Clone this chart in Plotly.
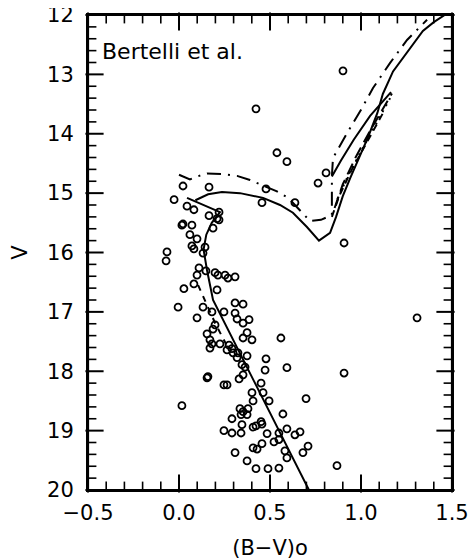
import plotly.graph_objects as go
import numpy as np

# ---- observed stars ----
star_bv = [0.901,0.423,0.538,0.593,0.808,0.764,0.022,0.165,0.478,-0.027,
           0.456,0.637,0.044,0.082,0.220,0.165,0.209,0.220,0.016,0.022,
           0.071,0.187,0.060,0.099,0.907,0.071,0.082,0.143,0.132,-0.066,
           -0.071,0.110,0.099,0.148,0.198,0.214,0.253,0.308,0.269,0.082,
           0.027,0.209,-0.005,0.132,0.308,0.352,0.181,0.247,0.308,0.099,
           0.319,0.352,0.385,0.198,0.187,0.154,0.374,0.401,0.352,0.560,
           0.170,0.181,0.170,0.225,0.275,0.291,0.264,0.297,0.324,0.374,
           0.319,0.478,0.346,0.363,0.473,0.593,0.907,1.308,0.159,0.154,
           0.330,0.352,0.247,0.264,0.451,0.401,0.407,0.462,0.495,0.698,
           0.016,0.335,0.352,0.379,0.374,0.341,0.571,0.291,0.346,0.407,
           0.423,0.451,0.456,0.247,0.291,0.341,0.484,0.549,0.593,0.637,
           0.665,0.522,0.549,0.456,0.407,0.429,0.709,0.582,0.681,0.593,
           0.308,0.374,0.423,0.489,0.549,0.868]
star_v = [12.94,13.58,14.32,14.47,14.66,14.83,14.88,14.90,14.93,15.11,
          15.16,15.16,15.22,15.28,15.32,15.38,15.43,15.45,15.54,15.52,
          15.54,15.59,15.70,15.77,15.84,15.89,15.94,15.91,16.01,15.99,
          16.14,16.26,16.38,16.31,16.34,16.38,16.38,16.41,16.43,16.53,
          16.61,16.63,16.92,16.92,16.85,16.87,17.00,17.00,17.02,17.10,
          17.12,17.19,17.13,17.22,17.29,17.37,17.35,17.47,17.44,17.44,
          17.47,17.54,17.61,17.54,17.56,17.62,17.64,17.69,17.69,17.74,
          17.77,17.79,17.89,17.93,17.98,17.94,18.03,17.10,18.09,18.11,
          18.13,18.06,18.23,18.23,18.20,18.36,18.50,18.36,18.50,18.46,
          18.58,18.63,18.68,18.63,18.73,18.73,18.72,18.80,18.90,18.94,
          18.92,18.85,18.89,19.00,19.04,19.04,19.05,19.04,18.97,19.07,
          19.02,19.19,19.15,19.22,19.29,19.31,19.26,19.34,19.37,19.46,
          19.37,19.51,19.64,19.64,19.63,19.59]

# ---- main isochrone (solid): main sequence + hook ----
ms_bv = [0.714, 0.45, 0.187, 0.154, 0.135, 0.150, 0.180, 0.225, 0.044]
ms_v  = [20.00, 18.40, 16.80, 16.30, 15.95, 15.70, 15.50, 15.32, 15.08]
# subgiant + giant branch (solid)
gb_bv = [0.09, 0.16, 0.236, 0.335, 0.462, 0.555, 0.626, 0.703, 0.769, 0.83,
         0.863, 0.90, 0.94, 0.99, 1.04, 1.09, 1.12, 1.176, 1.26, 1.34, 1.40, 1.46]
gb_v  = [15.12, 15.02, 14.98, 15.00, 15.08, 15.20, 15.33, 15.57, 15.80, 15.67,
         15.40, 15.05, 14.75, 14.40, 14.05, 13.65, 13.33, 12.95, 12.60, 12.27, 12.12, 12.00]

# ---- dash-dot isochrone ----
dd_bv = [0.00, 0.06, 0.10, 0.154, 0.236, 0.319, 0.39, 0.46, 0.538, 0.60, 0.648,
         0.72, 0.78, 0.84, 0.84, 0.846, 0.923, 1.005, 1.066, 1.159, 1.253, 1.363]
dd_v  = [14.69, 14.77, 14.72, 14.67, 14.68, 14.71, 14.78, 14.87, 14.97, 15.08, 15.23,
         15.47, 15.45, 15.37, 14.72, 14.41, 13.99, 13.57, 13.23, 12.81, 12.42, 12.08]

# ---- other giant branches ----
b_bv = [0.84, 0.89, 0.96, 1.05, 1.165]
b_v  = [14.72, 14.45, 14.10, 13.70, 13.30]
d_bv = [0.855, 0.90, 0.97, 1.05, 1.17]
d_v  = [15.25, 14.85, 14.40, 13.95, 13.32]
e_bv = [0.87, 0.93, 1.00, 1.08, 1.16]
e_v  = [15.10, 14.70, 14.30, 13.85, 13.40]
f_bv = [0.84, 0.88, 0.95, 1.03, 1.13]
f_v  = [15.40, 15.05, 14.60, 14.15, 13.60]
# dashed main-sequence segment
m2_bv = [0.105, 0.15, 0.20, 0.26]
m2_v  = [16.55, 16.85, 17.20, 17.55]

X_RANGE = [-0.5, 1.5]
Y_RANGE = [20, 12]
x_major = [-0.5, 0.0, 0.5, 1.0, 1.5]
x_labels = ["\u22120.5", "0.0", "0.5", "1.0", "1.5"]
y_major = [12, 13, 14, 15, 16, 17, 18, 19, 20]
x_minor = [float(v) for v in np.round(np.arange(-0.5, 1.5001, 0.1), 2) if v not in x_major]
y_minor = [float(v) for v in np.round(np.arange(12, 20.001, 0.2), 2) if v not in y_major]

W, H = 468, 552
ML, MR, MT, MB = 80, 24, 7, 70
PW, PH = W - ML - MR, H - MT - MB
DX = (X_RANGE[1] - X_RANGE[0]) / PW      # data units per pixel along x
DY = (Y_RANGE[0] - Y_RANGE[1]) / PH      # data units per pixel along y

FONT = "DejaVu Sans, sans-serif"
fig = go.Figure()

def line(x, y, dash="solid", w=2.0):
    fig.add_trace(go.Scatter(x=x, y=y, mode="lines", showlegend=False,
                             line=dict(color="black", width=w, dash=dash),
                             hoverinfo="skip"))

line(ms_bv, ms_v)
line(gb_bv, gb_v)
line(dd_bv, dd_v, dash="14px,7px,2px,7px")
line(b_bv, b_v)
line(d_bv, d_v, dash="12px,6px")
line(e_bv, e_v, dash="2px,5px")
line(f_bv, f_v, dash="7px,5px")
line(m2_bv, m2_v, dash="6px,6px")

fig.add_trace(go.Scatter(x=star_bv, y=star_v, mode="markers", showlegend=False,
                         marker=dict(symbol="circle-open", size=7, color="black",
                                     line=dict(width=1.8, color="black"))))

# ---- inside tick marks drawn as line-shaped markers (half length offset inward) ----
def tick_markers(xv, yv, L, w):
    h = L / 2.0
    xs = list(xv) + list(xv)
    ys = [Y_RANGE[0] - h * DY] * len(xv) + [Y_RANGE[1] + h * DY] * len(xv)
    fig.add_trace(go.Scatter(x=xs, y=ys, mode="markers", showlegend=False,
                             cliponaxis=False, hoverinfo="skip",
                             marker=dict(symbol="line-ns", size=L, color="black",
                                         line=dict(width=w, color="black"))))
    xs = [X_RANGE[0] + h * DX] * len(yv) + [X_RANGE[1] - h * DX] * len(yv)
    ys = list(yv) + list(yv)
    fig.add_trace(go.Scatter(x=xs, y=ys, mode="markers", showlegend=False,
                             cliponaxis=False, hoverinfo="skip",
                             marker=dict(symbol="line-ew", size=L, color="black",
                                         line=dict(width=w, color="black"))))

tick_markers(x_major, y_major, 13, 2.0)
tick_markers(x_minor, y_minor, 7, 1.6)

fig.add_annotation(x=-0.434, y=12.61, xref="x", yref="y", text="Bertelli et al.",
                   showarrow=False, xanchor="left", yanchor="middle",
                   font=dict(family=FONT, size=22, color="black"))

tickfont = dict(family=FONT, size=21, color="black")
fig.update_layout(
    width=W, height=H, margin=dict(l=ML, r=MR, t=MT, b=MB),
    paper_bgcolor="white", plot_bgcolor="white",
    shapes=[dict(type="rect", xref="paper", yref="paper", x0=0, x1=1, y0=0, y1=1,
                 line=dict(color="black", width=2.2), layer="above")],
    xaxis=dict(range=X_RANGE, tickmode="array", tickvals=x_major, ticktext=x_labels,
               showgrid=False, zeroline=False, showline=True, linecolor="black",
               linewidth=2, mirror=True, ticks="",
               automargin=False, ticklabeloverflow="allow", ticklabelstandoff=3,
               tickfont=tickfont,
               title=dict(text="(B\u2212V)o", font=tickfont, standoff=16)),
    yaxis=dict(range=Y_RANGE, tickmode="array", tickvals=y_major,
               showgrid=False, zeroline=False, showline=True, linecolor="black",
               linewidth=2, mirror=True, ticks="",
               automargin=False, ticklabeloverflow="allow", ticklabelstandoff=8,
               tickfont=tickfont,
               title=dict(text="V", font=tickfont, standoff=22)),
)

fig.write_html("out.html")
